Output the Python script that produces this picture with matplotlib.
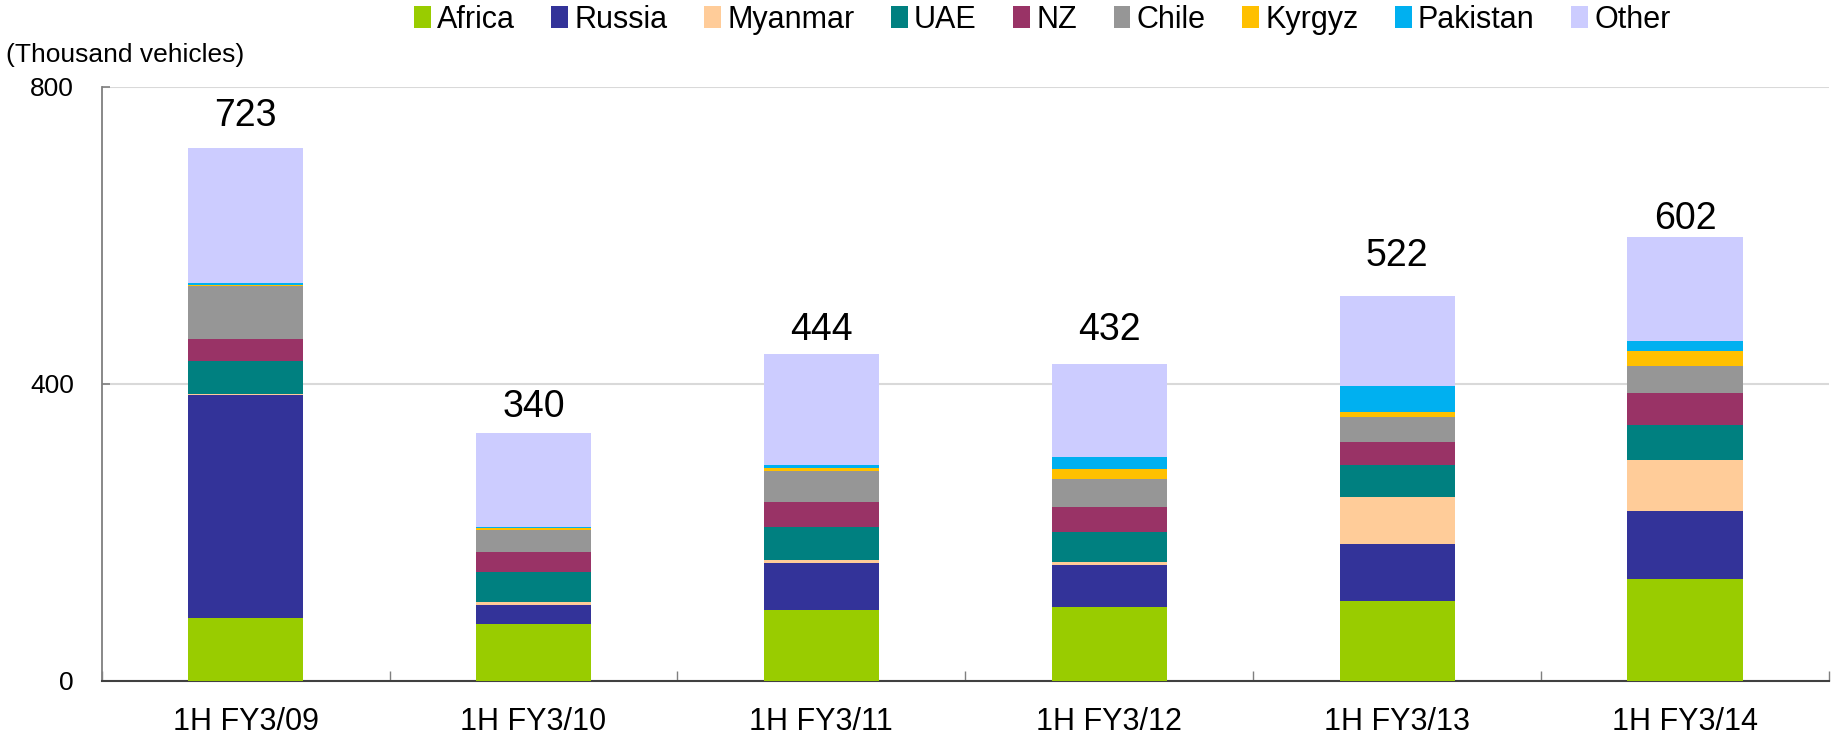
import numpy as np
import matplotlib
matplotlib.use("Agg")
import matplotlib.pyplot as plt

plt.rcParams['font.family'] = ['Liberation Sans', 'DejaVu Sans']

# data (thousand vehicles)
periods = ["1H FY3/09", "1H FY3/10", "1H FY3/11", "1H FY3/12", "1H FY3/13", "1H FY3/14"]
africa = [84, 77, 95, 99, 107, 137]
russia = [301, 25, 64, 57, 77, 92]
myanmar = [1, 4, 4, 4, 63, 68]
uae = [45, 41, 44, 40, 44, 48]
nz = [29, 26, 34, 34, 30, 43]
chile = [72, 30, 41, 37, 34, 36]
kyrgyz = [1, 2, 5, 14, 7, 20]
pakistan = [3, 2, 3, 16, 35, 14]
other = [181, 126, 150, 125, 121, 139]
totals = [723, 340, 444, 432, 522, 602]

series = [africa, russia, myanmar, uae, nz, chile, kyrgyz, pakistan, other]
names = ["Africa", "Russia", "Myanmar", "UAE", "NZ", "Chile", "Kyrgyz", "Pakistan", "Other"]
colors = ["#99CC00", "#333399", "#FFCC99", "#008080", "#993366",
          "#969696", "#FFC000", "#00B0F0", "#CCCCFF"]

fig = plt.figure(figsize=(18.35, 7.35), dpi=100)
ax = fig.add_axes([0.0554, 0.0739, 0.9413, 0.8081])

x = np.arange(len(periods))
bottom = np.zeros(len(periods))
handles = []
for vals, name, c in zip(series, names, colors):
    b = ax.bar(x, vals, 0.4, bottom=bottom, color=c, linewidth=0, label=name, zorder=3)
    handles.append(b)
    bottom += np.array(vals)

# total labels above bars (gap in points)
label_gap = [23, 19, 17, 25, 29, 13]
for xi, top, t, g in zip(x, bottom, totals, label_gap):
    ax.annotate(str(t), (xi, top), xytext=(0, g), textcoords="offset points",
                ha="center", va="center", fontsize=27)

ax.set_xlim(-0.5, len(periods) - 0.5)
ax.set_ylim(0, 800)
ax.set_yticks([0, 400, 800])
ax.yaxis.grid(True, color="#D9D9D9", linewidth=1.5, zorder=0)
ax.tick_params(axis="y", direction="in", length=6, width=1.2, color="#7f7f7f",
               labelsize=19, pad=20)

ax.set_xticks(x)
ax.set_xticklabels(periods, fontsize=22)
ax.set_xticks(np.arange(-0.5, len(periods)), minor=True)
ax.tick_params(axis="x", which="major", length=0, pad=19)
ax.tick_params(axis="x", which="minor", direction="in", length=7, width=1.0, color="#7f7f7f")

ax.spines["top"].set_visible(False)
ax.spines["right"].set_visible(False)
ax.spines["left"].set_color("#7f7f7f")
ax.spines["left"].set_linewidth(1.3)
ax.spines["bottom"].set_color("#404040")
ax.spines["bottom"].set_linewidth(1.5)

fig.text(0.003, 0.925, "(Thousand vehicles)", fontsize=19, ha="left", va="center")

fig.legend(handles=handles, labels=names, loc="center", bbox_to_anchor=(0.568, 0.973),
           ncol=9, frameon=False, fontsize=22, handlelength=0.55, handleheight=0.75,
           handletextpad=0.2, columnspacing=1.2, borderaxespad=0)

fig.savefig("out.png", dpi=100)
